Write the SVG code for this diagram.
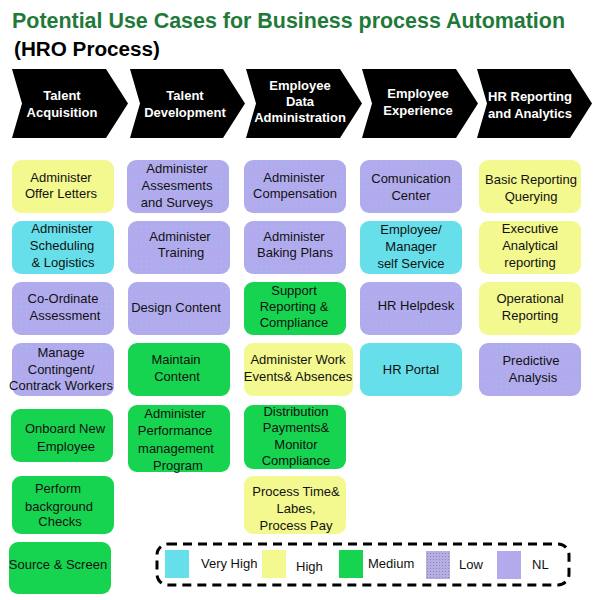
<svg xmlns="http://www.w3.org/2000/svg" width="600" height="600" viewBox="0 0 600 600">
  <defs>
    <pattern id="dots" width="5" height="5" patternUnits="userSpaceOnUse">
      <rect width="5" height="5" fill="#b3aaee"/>
      <circle cx="1.5" cy="1.5" r="0.55" fill="#5fe3f0" opacity="0.8"/>
    </pattern>
    <pattern id="dotsGrey" width="3" height="3" patternUnits="userSpaceOnUse">
      <rect width="3" height="3" fill="#b5aee6"/>
      <rect x="1" y="1" width="1" height="1" fill="#8a8a9a"/>
    </pattern>
  </defs>
  <style>
    .title { font-family: "Liberation Sans", Arial, sans-serif; font-weight: bold; }
    .chev { fill: #000; }
    .chevText { font-family: "Liberation Sans", Arial, sans-serif; font-weight: bold; font-size: 13px; fill: #fff; text-anchor: middle; }
    .box text, .lbl { font-family: "Liberation Sans", Arial, sans-serif; font-size: 13px; fill: #111; }
    .box text { text-anchor: middle; }
    .vh { fill: #66dfeb; }
    .hi { fill: #f3f88f; }
    .md { fill: #17d450; }
    .nl { fill: url(#dots); }
  </style>

  <rect width="600" height="600" fill="#fff"/>

  <!-- heading -->
  <text class="title" x="12" y="28" font-size="22" fill="#1f7a3a" textLength="553" lengthAdjust="spacingAndGlyphs">Potential Use Cases for Business process Automation</text>
  <text class="title" x="14" y="56" font-size="20" fill="#000" textLength="146" lengthAdjust="spacingAndGlyphs">(HRO Process)</text>

  <!-- process stages -->
  <g id="stage-talent-acquisition">
    <polygon class="chev" points="12,69 106,69 128,103.5 106,138 12,138 22,103.5"/>
    <text class="chevText" x="62"><tspan x="62" y="100">Talent</tspan><tspan x="62" y="117">Acquisition</tspan></text>
  </g>
  <g id="stage-talent-development">
    <polygon class="chev" points="130,69 223,69 245,103.5 223,138 130,138 140,103.5"/>
    <text class="chevText"><tspan x="185" y="100">Talent</tspan><tspan x="185" y="117">Development</tspan></text>
  </g>
  <g id="stage-employee-data">
    <polygon class="chev" points="246,69 340,69 362,103.5 340,138 246,138 256,103.5"/>
    <text class="chevText"><tspan x="300" y="90">Employee</tspan><tspan x="300" y="106">Data</tspan><tspan x="300" y="122">Administration</tspan></text>
  </g>
  <g id="stage-employee-experience">
    <polygon class="chev" points="362,69 456,69 478,103.5 456,138 362,138 372,103.5"/>
    <text class="chevText"><tspan x="418" y="98">Employee</tspan><tspan x="418" y="115">Experience</tspan></text>
  </g>
  <g id="stage-hr-reporting">
    <polygon class="chev" points="477,69 570,69 592,103.5 570,138 477,138 487,103.5"/>
    <text class="chevText"><tspan x="530" y="101">HR Reporting</tspan><tspan x="530" y="118">and Analytics</tspan></text>
  </g>

  <!-- column 1: Talent Acquisition -->
  <g id="offer-letters" class="box">
    <rect class="hi" x="12" y="160" width="102" height="53" rx="9"/>
    <text><tspan x="61" y="182">Administer</tspan><tspan x="61" y="198">Offer Letters</tspan></text>
  </g>
  <g id="scheduling" class="box">
    <rect class="vh" x="12" y="221" width="102" height="53" rx="9"/>
    <text><tspan x="62" y="233">Administer</tspan><tspan x="62" y="250">Scheduling</tspan><tspan x="63" y="267">&amp; Logistics</tspan></text>
  </g>
  <g id="co-ordinate" class="box">
    <rect class="nl" x="12" y="282" width="102" height="53" rx="9"/>
    <text><tspan x="63" y="303">Co-Ordinate</tspan><tspan x="65" y="320">Assessment</tspan></text>
  </g>
  <g id="contingent-workers" class="box">
    <rect class="nl" x="12" y="343" width="102" height="53" rx="9"/>
    <text><tspan x="61" y="357">Manage</tspan><tspan x="61" y="374">Contingent/</tspan><tspan x="61" y="390">Contrack Workers</tspan></text>
  </g>
  <g id="onboard" class="box">
    <rect class="md" x="11" y="409" width="102" height="53" rx="9"/>
    <text><tspan x="65" y="433">Onboard New</tspan><tspan x="66" y="451">Employee</tspan></text>
  </g>
  <g id="background-checks" class="box">
    <rect class="md" x="12" y="476" width="102" height="58" rx="9"/>
    <text><tspan x="58" y="493">Perform</tspan><tspan x="59" y="511">background</tspan><tspan x="60" y="526">Checks</tspan></text>
  </g>
  <g id="source-screen" class="box">
    <rect class="md" x="9" y="542" width="102" height="52" rx="9"/>
    <text><tspan x="58" y="569">Source &amp; Screen</tspan></text>
  </g>

  <!-- column 2: Talent Development -->
  <g id="assessments" class="box">
    <rect class="nl" x="127" y="160" width="102" height="53" rx="9"/>
    <text><tspan x="177" y="173">Administer</tspan><tspan x="177" y="190">Assesments</tspan><tspan x="177" y="207">and Surveys</tspan></text>
  </g>
  <g id="training" class="box">
    <rect class="nl" x="128" y="221" width="102" height="53" rx="9"/>
    <text><tspan x="180" y="241">Administer</tspan><tspan x="181" y="257">Training</tspan></text>
  </g>
  <g id="design-content" class="box">
    <rect class="nl" x="128" y="282" width="102" height="53" rx="9"/>
    <text><tspan x="176" y="312">Design Content</tspan></text>
  </g>
  <g id="maintain-content" class="box">
    <rect class="md" x="128" y="343" width="102" height="53" rx="9"/>
    <text><tspan x="176" y="364">Maintain</tspan><tspan x="177" y="381">Content</tspan></text>
  </g>
  <g id="performance" class="box">
    <rect class="md" x="128" y="405" width="102" height="67" rx="9"/>
    <text><tspan x="175" y="418">Administer</tspan><tspan x="175" y="435">Performance</tspan><tspan x="176" y="453">management</tspan><tspan x="178" y="470">Program</tspan></text>
  </g>

  <!-- column 3: Employee Data Administration -->
  <g id="compensation" class="box">
    <rect class="nl" x="244" y="160" width="102" height="53" rx="9"/>
    <text><tspan x="294" y="182">Administer</tspan><tspan x="295" y="198">Compensation</tspan></text>
  </g>
  <g id="benefit-plans" class="box">
    <rect class="nl" x="244" y="221" width="102" height="53" rx="9"/>
    <text><tspan x="294" y="241">Administer</tspan><tspan x="295" y="257">Baking Plans</tspan></text>
  </g>
  <g id="support-reporting" class="box">
    <rect class="md" x="244" y="282" width="102" height="53" rx="9"/>
    <text><tspan x="294" y="295">Support</tspan><tspan x="294" y="311">Reporting &amp;</tspan><tspan x="294" y="327">Compliance</tspan></text>
  </g>
  <g id="work-events" class="box">
    <rect class="hi" x="244" y="343" width="109" height="53" rx="9"/>
    <text><tspan x="298" y="364">Administer Work</tspan><tspan x="298" y="381">Events&amp; Absences</tspan></text>
  </g>
  <g id="distribution" class="box">
    <rect class="md" x="244" y="405" width="102" height="64" rx="9"/>
    <text><tspan x="296" y="416">Distribution</tspan><tspan x="296" y="432">Payments&amp;</tspan><tspan x="296" y="449">Monitor</tspan><tspan x="296" y="465">Compliance</tspan></text>
  </g>
  <g id="process-time" class="box">
    <rect class="hi" x="244" y="476" width="102" height="58" rx="9"/>
    <text><tspan x="296" y="496">Process Time&amp;</tspan><tspan x="296" y="513">Labes,</tspan><tspan x="296" y="530">Process Pay</tspan></text>
  </g>

  <!-- column 4: Employee Experience -->
  <g id="communication" class="box">
    <rect class="nl" x="360" y="160" width="102" height="53" rx="9"/>
    <text><tspan x="411" y="183">Comunication</tspan><tspan x="411" y="200">Center</tspan></text>
  </g>
  <g id="self-service" class="box">
    <rect class="vh" x="360" y="221" width="102" height="53" rx="9"/>
    <text><tspan x="411" y="234">Employee/</tspan><tspan x="411" y="251">Manager</tspan><tspan x="411" y="268">self Service</tspan></text>
  </g>
  <g id="helpdesk" class="box">
    <rect class="nl" x="360" y="282" width="102" height="53" rx="9"/>
    <text><tspan x="416" y="310">HR Helpdesk</tspan></text>
  </g>
  <g id="hr-portal" class="box">
    <rect class="vh" x="360" y="343" width="102" height="53" rx="9"/>
    <text><tspan x="411" y="374">HR Portal</tspan></text>
  </g>

  <!-- column 5: HR Reporting and Analytics -->
  <g id="basic-reporting" class="box">
    <rect class="hi" x="479" y="160" width="102" height="53" rx="9"/>
    <text><tspan x="531" y="184">Basic Reporting</tspan><tspan x="531" y="201">Querying</tspan></text>
  </g>
  <g id="executive-reporting" class="box">
    <rect class="hi" x="479" y="221" width="102" height="53" rx="9"/>
    <text><tspan x="530" y="233">Executive</tspan><tspan x="530" y="250">Analytical</tspan><tspan x="530" y="267">reporting</tspan></text>
  </g>
  <g id="operational-reporting" class="box">
    <rect class="hi" x="479" y="282" width="102" height="53" rx="9"/>
    <text><tspan x="530" y="303">Operational</tspan><tspan x="530" y="320">Reporting</tspan></text>
  </g>
  <g id="predictive" class="box">
    <rect class="nl" x="479" y="343" width="102" height="53" rx="9"/>
    <text><tspan x="531" y="365">Predictive</tspan><tspan x="533" y="382">Analysis</tspan></text>
  </g>

  <!-- legend -->
  <g id="legend">
    <rect x="157" y="544" width="412" height="41" rx="11" fill="none" stroke="#000" stroke-width="3" stroke-dasharray="9,6"/>
    <rect class="vh" x="165" y="550" width="24" height="28"/>
    <text class="lbl" x="201" y="568">Very High</text>
    <rect class="hi" x="262" y="550" width="24" height="28"/>
    <text class="lbl" x="296" y="571">High</text>
    <rect class="md" x="339" y="550" width="24" height="28"/>
    <text class="lbl" x="368" y="568">Medium</text>
    <rect x="426" y="551" width="24" height="28" fill="url(#dotsGrey)"/>
    <text class="lbl" x="459" y="569">Low</text>
    <rect x="497" y="551" width="24" height="28" fill="#b3aaee"/>
    <text class="lbl" x="532" y="569">NL</text>
  </g>
</svg>
